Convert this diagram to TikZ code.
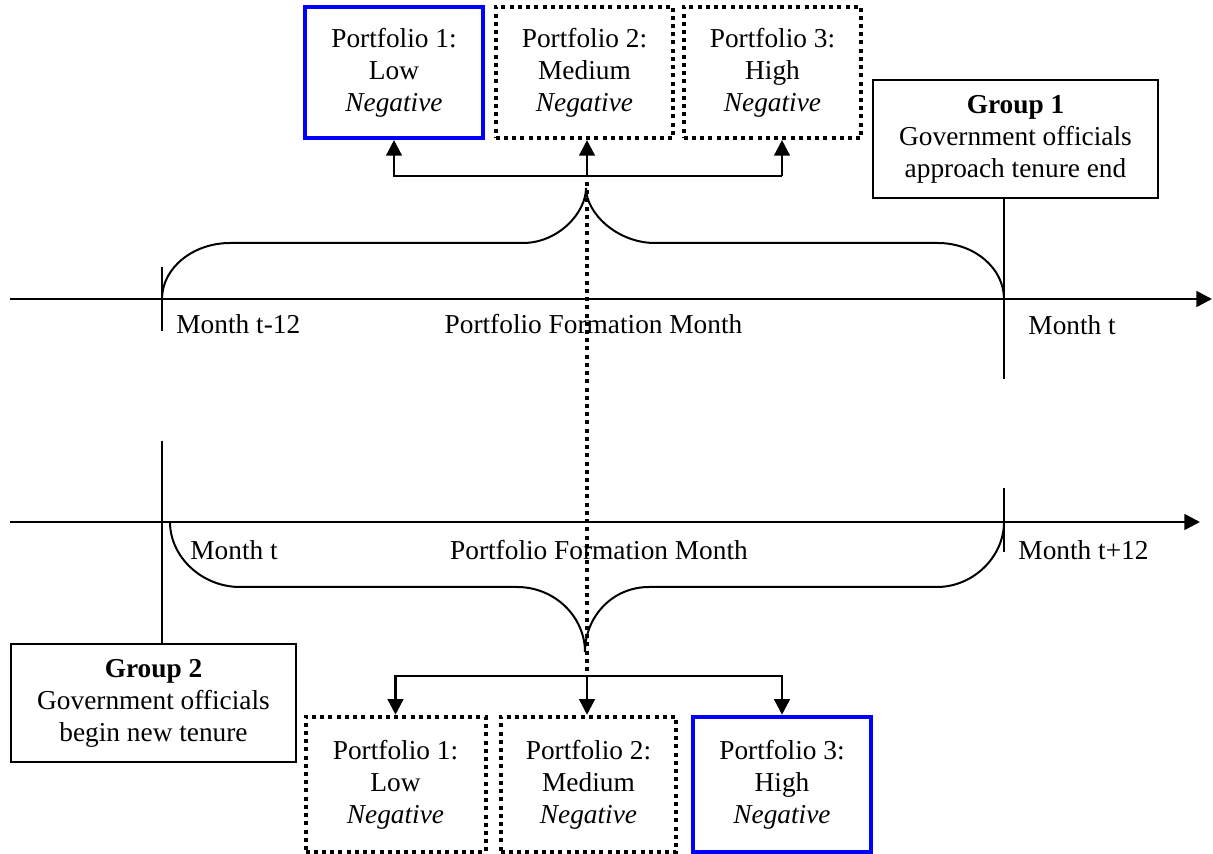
\documentclass[tikz,border=0pt]{standalone}
\usepackage{fontspec}
\setmainfont{Liberation Serif}
\usetikzlibrary{arrows.meta}

\begin{document}
\begin{tikzpicture}[
    x=0.45pt, y=-0.45pt,
    text centered,
    font=\fontsize{12.3}{14.4}\selectfont,
	portfolio/.style={
	  rectangle,
	  align=center,
	  minimum width=80pt,
	  minimum height=59pt,
	  inner sep=0pt
	},
	chosen/.style={
	  portfolio,
	  draw=blue,
	  line width=1.8pt
	},
	other/.style={
	  portfolio,
	  draw=black,
	  line width=1.8pt,
	  dash pattern=on 1.8pt off 1.9pt
	},
	groupbox/.style={
	  rectangle,
	  align=center,
	  draw=black,
	  line width=0.9pt,
	  minimum width=128.3pt,
	  minimum height=53.5pt
	},
	monthlabel/.style={anchor=base west, inner sep=0pt},
	formlabel/.style={anchor=base, inner sep=0pt},
	axis/.style={draw, line width=1.2pt, -{Triangle[length=7pt,width=7pt]}},
	conn/.style={draw, line width=1.1pt, -{Triangle[length=7pt,width=7pt]}},
	plain/.style={draw, line width=0.9pt},
	dotline/.style={draw, line width=1.7pt, dash pattern=on 1.8pt off 1.9pt}
	]
	\useasboundingbox (0,0) rectangle (1213,854);
	% portfolios, upper row
	\node at (394, 72.5) [chosen] (p1) {Portfolio 1:\\Low\\\textit{Negative}};
	\node at (584.5, 72.5) [other] (p2) {Portfolio 2:\\Medium\\\textit{Negative}};
	\node at (772.5, 72.5) [other] (p3) {Portfolio 3:\\High\\\textit{Negative}};
	% portfolios, lower row
	\node at (395.5, 784.5) [other, minimum width=81pt, minimum height=61pt] (q1) {Portfolio 1:\\Low\\\textit{Negative}};
	\node at (588.5, 784.5) [other, minimum width=79pt, minimum height=61pt] (q2) {Portfolio 2:\\Medium\\\textit{Negative}};
	\node at (782, 784.5) [chosen, minimum width=80pt, minimum height=61pt] (q3) {Portfolio 3:\\High\\\textit{Negative}};
	% groups
	\node at (1015.5, 139) [groupbox] (g1) {\textbf{Group 1}\\Government officials\\approach tenure end};
	\node at (153.5, 703) [groupbox] (g2) {\textbf{Group 2}\\Government officials\\begin new tenure};
	% time axes
	\coordinate (a0) at (162, 299);
	\coordinate (a1) at (1004, 299);
	\coordinate (b0) at (162, 522);
	\coordinate (b1) at (1004, 522);
	\path [axis] (10, 299) -- (1212, 299);
	\path [axis] (10, 522) -- (1200, 522);
	\path [plain] (162, 267) -- (162, 331);
	\path [plain] (g1.south -| a1) -- (1004, 379);
	\path [plain] (162, 441) -- (g2.north -| b0);
	\path [plain] (1004, 488) -- (1004, 552);
	% labels
	\node at (176, 334) [monthlabel] (m1) {Month t-12};
	\node at (593.5, 334) [formlabel] (f1) {Portfolio Formation Month};
	\node at (1028, 335) [monthlabel] (m2) {Month t};
	\node at (190, 560) [monthlabel] (m3) {Month t};
	\node at (599, 560) [formlabel] (f2) {Portfolio Formation Month};
	\node at (1018, 560) [monthlabel] (m4) {Month t+12};
	% braces
	\path [plain] (a0) .. controls (162, 268) and (193, 243) .. (230, 243) -- (523, 243)
	  .. controls (558, 243) and (586, 213) .. (586, 188)
	  .. controls (586, 213) and (617, 243) .. (655, 243) -- (938, 243)
	  .. controls (974, 243) and (1004, 268) .. (a1);
	\path [plain] (170, 522) .. controls (170, 557) and (202, 587) .. (240, 587) -- (517, 587)
	  .. controls (555, 587) and (585, 617) .. (585, 652)
	  .. controls (585, 617) and (612, 587) .. (649, 587) -- (937, 587)
	  .. controls (973, 587) and (1004, 557) .. (b1);
	% arrows to portfolios
	\coordinate (fork) at (587, 176);
	\coordinate (r3) at (782, 176);
	\path [conn] (fork) -| (p1.south);
	\path [conn] (fork) -- (fork |- p2.south);
	\path [plain] (fork) -- (r3);
	\path [conn] (r3) -- (r3 |- p3.south);
	\coordinate (bfork) at (587, 676);
	\path [conn] (bfork) -| (q1.north);
	\path [conn] (bfork) -- (bfork |- q2.north);
	\path [conn] (bfork) -| (q3.north);
	% dotted link
	\coordinate (dtop) at (587, 182);
	\path [dotline] (dtop) -- (bfork);
  \end{tikzpicture}
\end{document}
